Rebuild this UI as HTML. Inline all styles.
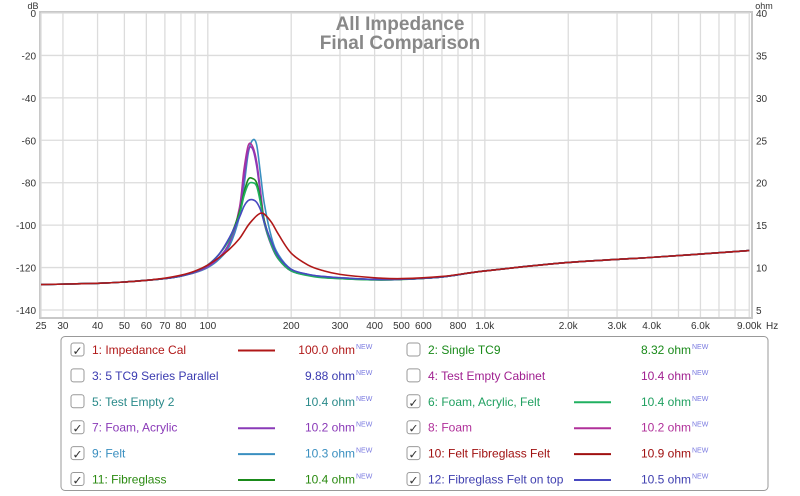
<!DOCTYPE html>
<html><head><meta charset="utf-8"><style>
body{margin:0;background:#fff;font-family:"Liberation Sans",sans-serif;}
#wrap{position:relative;width:800px;height:496px;overflow:hidden;}
text{font-family:"Liberation Sans",sans-serif;}
</style></head><body>
<div id="wrap">
<svg id="chart" width="800" height="496"></svg>
</div>
<script>
const freqs=[25,30,40,50,60,70,80,90,100,110,120,130,135,140,145,150,155,160,170,180,200,230,260,300,400,500,700,1000,2000,4000,9000];
const s9 =[8.0,8.05,8.15,8.3,8.5,8.7,9.0,9.4,10.0,11.0,12.6,16.0,19.5,23.5,25.0,24.5,21.0,17.5,13.5,11.5,9.8,9.2,8.95,8.8,8.6,8.62,8.9,9.6,10.6,11.2,12.0];
const s8 =[8.0,8.05,8.15,8.3,8.5,8.7,9.0,9.45,10.1,11.2,13.0,17.0,21.5,24.4,24.3,22.5,19.0,15.5,12.6,11.0,9.6,9.1,8.9,8.75,8.6,8.62,8.9,9.6,10.6,11.2,12.0];
const s7 =[8.0,8.05,8.15,8.3,8.5,8.7,9.0,9.45,10.1,11.2,13.0,16.5,20.5,23.8,24.0,22.0,18.5,15.2,12.5,11.0,9.6,9.1,8.9,8.75,8.6,8.62,8.9,9.6,10.6,11.2,12.0];
const s11=[8.0,8.05,8.15,8.3,8.5,8.7,9.0,9.5,10.3,11.6,13.5,16.5,18.8,20.4,20.5,20.0,18.0,15.5,12.8,11.2,9.7,9.1,8.85,8.7,8.55,8.6,8.9,9.6,10.6,11.2,12.0];
const s6 =[8.0,8.05,8.15,8.3,8.5,8.7,9.0,9.5,10.3,11.6,13.4,16.2,18.4,19.8,20.0,19.6,17.6,15.2,12.6,11.0,9.6,9.05,8.8,8.7,8.55,8.6,8.9,9.6,10.6,11.2,12.0];
const s12=[8.0,8.05,8.15,8.3,8.5,8.7,9.0,9.5,10.3,11.6,13.6,15.9,17.2,17.9,18.0,17.7,16.8,15.3,13.0,11.3,9.8,9.2,8.95,8.8,8.6,8.62,8.9,9.6,10.6,11.2,12.0];
const s10=[8.0,8.05,8.15,8.3,8.5,8.75,9.1,9.6,10.3,11.2,12.2,13.4,14.2,15.0,15.6,16.1,16.4,16.3,15.3,13.9,11.7,10.3,9.65,9.2,8.8,8.7,8.95,9.6,10.6,11.2,12.0];
const dbTicks=[0,-20,-40,-60,-80,-100,-120,-140];
const ohmTicks=[40,35,30,25,20,15,10,5];
const fTicks=[25,30,40,50,60,70,80,100,200,300,400,500,600,800,1000,2000,3000,4000,6000,9000];
const fLabels=["25","30","40","50","60","70","80","100","200","300","400","500","600","800","1.0k","2.0k","3.0k","4.0k","6.0k","9.00k"];
const gridF=[25,30,40,50,60,70,80,90,100,200,300,400,500,600,700,800,900,1000,2000,3000,4000,5000,6000,7000,8000,9000];
const series=[
 {n:"felt",d:s9,c:"#3a8fc0"},{n:"foam",d:s8,c:"#b0309a"},{n:"foam-acrylic",d:s7,c:"#8a3ab8"},
 {n:"fibreglass",d:s11,c:"#1a8a1a"},{n:"foam-acrylic-felt",d:s6,c:"#20b060"},
 {n:"fibreglass-felt-on-top",d:s12,c:"#4848c0"},{n:"felt-fibreglass-felt",d:s10,c:"#b01818"}];
const X0=41,Y0=13,Y1=310,R=750,OCT=83.4;
const xf=f=>X0+OCT*Math.log2(f/25);
const yd=d=>Y0+(0-d)/140*(Y1-Y0);
const yo=o=>Y0+(40-o)/35*(Y1-Y0);
const svg=document.getElementById('chart');
const NS='http://www.w3.org/2000/svg';
function mk(t,a,p){const e=document.createElementNS(NS,t);for(const k in a)e.setAttribute(k,a[k]);(p||svg).appendChild(e);return e;}
let e=mk('rect',{x:X0-1,y:Y0-1,width:R-X0+3,height:318-Y0+1,fill:'#fff',stroke:'#c8c8c8','stroke-width':2});


gridF.forEach(f=>{const l=mk('line',{x1:xf(f),x2:xf(f),y1:Y0,y2:317,stroke:'#dcdcdc','stroke-width':1.3});

});
dbTicks.forEach(d=>{const l=mk('line',{x1:X0,x2:R,y1:yd(d),y2:yd(d),stroke:'#dcdcdc','stroke-width':1.3});


const t=mk('text',{x:36,y:yd(d)+4,'text-anchor':'end','font-size':10,fill:'#333'});t.textContent=d;

});
ohmTicks.forEach(o=>{const t=mk('text',{x:756,y:yo(o)+4,'font-size':10,fill:'#333'});t.textContent=o;

});
fTicks.forEach((f,i)=>{const t=mk('text',{x:xf(f),y:329,'text-anchor':'middle','font-size':10,fill:'#333'});t.textContent=fLabels[i];

});
let t=mk('text',{x:766,y:329,'font-size':10,fill:'#333'});t.textContent='Hz';


t=mk('text',{x:33,y:9,'text-anchor':'middle','font-size':9,fill:'#333'});t.textContent='dB';


t=mk('text',{x:764,y:9,'text-anchor':'middle','font-size':9,fill:'#333'});t.textContent='ohm';


t=mk('text',{x:400,y:30,'text-anchor':'middle','font-size':19,'font-weight':'bold',fill:'#888'});t.textContent='All Impedance';


t=mk('text',{x:400,y:49,'text-anchor':'middle','font-size':19,'font-weight':'bold',fill:'#888'});t.textContent='Final Comparison';


series.forEach(s=>{
 // smooth with monotone-ish catmull-rom
 const pts=freqs.map((f,i)=>[xf(f),yo(s.d[i])]);
 let d='M'+pts[0][0]+','+pts[0][1];
 for(let i=0;i<pts.length-1;i++){const p0=pts[Math.max(0,i-1)],p1=pts[i],p2=pts[i+1],p3=pts[Math.min(pts.length-1,i+2)];
  const c1=[p1[0]+(p2[0]-p0[0])/6,p1[1]+(p2[1]-p0[1])/6],c2=[p2[0]-(p3[0]-p1[0])/6,p2[1]-(p3[1]-p1[1])/6];
  d+=` C${c1[0]},${c1[1]} ${c2[0]},${c2[1]} ${p2[0]},${p2[1]}`;}
 const p=mk('path',{d:d,fill:'none',stroke:s.c,'stroke-width':1.6});
 
 
});
// legend
const leg=[
 ["1: Impedance Cal","#b01818",true,"100.0 ohm","#b01818"],["2: Single TC9","#1a8a1a",false,"8.32 ohm",null],
 ["3: 5 TC9 Series Parallel","#3a3ab0",false,"9.88 ohm",null],["4: Test Empty Cabinet","#a02090",false,"10.4 ohm",null],
 ["5: Test Empty 2","#2a8a8a",false,"10.4 ohm",null],["6: Foam, Acrylic, Felt","#20a060",true,"10.4 ohm","#20b060"],
 ["7: Foam, Acrylic","#8a3ab8",true,"10.2 ohm","#8a3ab8"],["8: Foam","#b0309a",true,"10.2 ohm","#b0309a"],
 ["9: Felt","#3a8fc0",true,"10.3 ohm","#3a8fc0"],["10: Felt Fibreglass Felt","#a01010",true,"10.9 ohm","#a01010"],
 ["11: Fibreglass","#2a8a10",true,"10.4 ohm","#1a8a1a"],["12: Fibreglass Felt on top","#4040b0",true,"10.5 ohm","#4848c0"]];
e=mk('rect',{x:61,y:336.5,width:707,height:154,rx:4,fill:'#fff',stroke:'#999','stroke-width':1});


leg.forEach((L,i)=>{const col=i%2,row=Math.floor(i/2);const ox=col?336:0,y=350+row*25.9;
 const g=mk('g',{});
 
 const cb=mk('rect',{x:71+ox,y:y-7,width:13,height:13,rx:2.5,fill:'#fff',stroke:'#999'},g);
 
 
 if(L[2]){const ck=mk('text',{x:72.5+ox,y:y+5,'font-size':12,fill:'#333'},g);ck.textContent='✓';}
 const tx=mk('text',{x:92+ox,y:y+4,'font-size':12,fill:L[1]},g);tx.textContent=L[0];
 if(L[4])mk('line',{x1:238+ox,x2:275+ox,y1:y+0.5,y2:y+0.5,stroke:L[4],'stroke-width':2},g);
 const v=mk('text',{x:355+ox,y:y+4,'text-anchor':'end','font-size':12,fill:L[1]},g);v.textContent=L[3];
 const nw=mk('text',{x:356+ox,y:y-1,'font-size':7,fill:'#7a7ae0'},g);nw.textContent='NEW';
});
</script>
</body></html>
